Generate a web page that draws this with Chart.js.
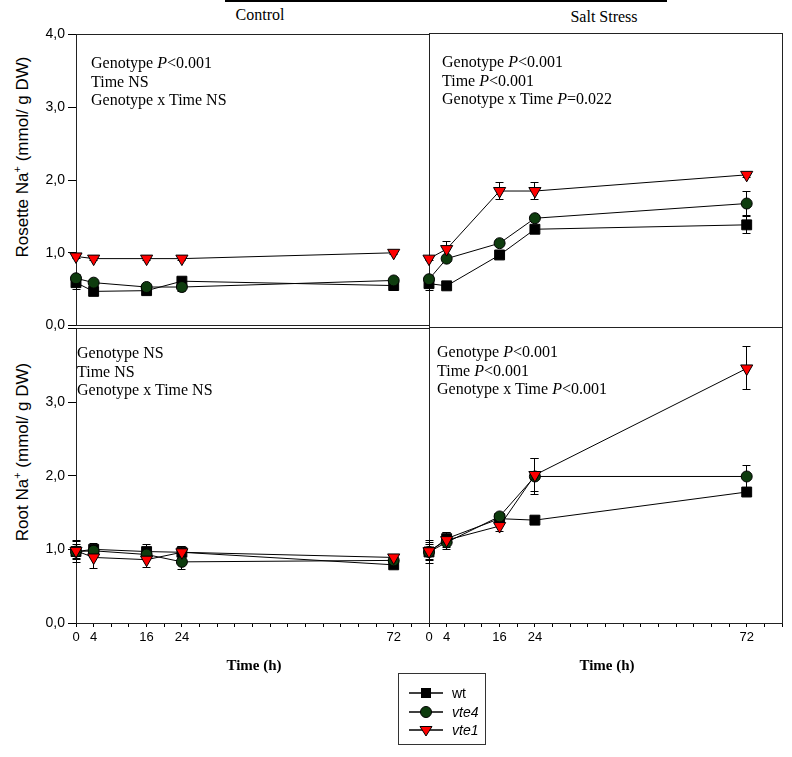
<!DOCTYPE html>
<html>
<head>
<meta charset="utf-8">
<script src="https://cdn.jsdelivr.net/npm/chart.js@4.4.1/dist/chart.umd.min.js"></script>
<style>
  html, body { margin: 0; padding: 0; background: #fff; }
  body { width: 792px; height: 757px; position: relative; overflow: hidden;
         font-family: "Liberation Serif", "Times New Roman", serif; color: #000; }
  canvas { position: absolute; }
  .c { position: absolute; transform: translate(-50%, -50%); white-space: nowrap; }
  .stat { position: absolute; font: 16px "Liberation Serif", "Times New Roman", serif; line-height: 18.5px; white-space: nowrap; }
  .ytitle { position: absolute; transform: translate(-50%, -50%) rotate(-90deg); white-space: nowrap;
            font: 17px "Liberation Sans", Arial, sans-serif; }
  .ytitle sup { font-size: 11px; }
  .head { font: 16px "Liberation Serif", "Times New Roman", serif; }
  .time { font: bold 15px "Liberation Serif", "Times New Roman", serif; }
  #legend { position: absolute; left: 398px; top: 673px; width: 88px; height: 72px; border: 1px solid #333; box-sizing: border-box; }
  #legend svg { position: absolute; left: 0; top: 0; }
  .lg { position: absolute; left: 53px; font: italic 14px "Liberation Sans", Arial, sans-serif; transform: translateY(-50%); }
</style>
</head>
<body>

<div style="position:absolute;left:225px;top:0;width:442px;height:2px;background:#000"></div>
<div class="c head" style="left:260px;top:15px">Control</div>
<div class="c head" style="left:604px;top:17px">Salt Stress</div>

<div class="ytitle" style="left:22px;top:157px">Rosette Na<sup>+</sup> (mmol/ g DW)</div>
<div class="ytitle" style="left:22px;top:452px">Root Na<sup>+</sup> (mmol/ g DW)</div>

<canvas id="tl" width="439" height="314" style="left:0;top:23px"></canvas>
<canvas id="tr" width="373" height="314" style="left:419px;top:23px"></canvas>
<canvas id="bl" width="439" height="346" style="left:0;top:317px"></canvas>
<canvas id="br" width="373" height="346" style="left:419px;top:317px"></canvas>

<div class="stat" style="left:91px;top:54px">Genotype <i>P</i>&lt;0.001<br>Time NS<br>Genotype x Time NS</div>
<div class="stat" style="left:442px;top:53px">Genotype <i>P</i>&lt;0.001<br>Time <i>P</i>&lt;0.001<br>Genotype x Time <i>P</i>=0.022</div>
<div class="stat" style="left:77px;top:344px">Genotype NS<br>Time NS<br>Genotype x Time NS</div>
<div class="stat" style="left:437px;top:343px">Genotype <i>P</i>&lt;0.001<br>Time <i>P</i>&lt;0.001<br>Genotype x Time <i>P</i>&lt;0.001</div>

<div class="c time" style="left:254px;top:665px">Time (h)</div>
<div class="c time" style="left:607px;top:665px">Time (h)</div>

<div id="legend">
  <svg width="88" height="72" xmlns="http://www.w3.org/2000/svg">
    <line x1="10" y1="19" x2="44" y2="19" stroke="#000" stroke-width="1.3"/>
    <rect x="22" y="14" width="10" height="10" fill="#000"/>
    <line x1="10" y1="38" x2="44" y2="38" stroke="#000" stroke-width="1.3"/>
    <circle cx="27" cy="38" r="5.5" fill="#0e3c0e" stroke="#000" stroke-width="1"/>
    <line x1="10" y1="56" x2="44" y2="56" stroke="#000" stroke-width="1.3"/>
    <polygon points="21,52.5 33,52.5 27,62" fill="#ff0000" stroke="#000" stroke-width="1"/>
  </svg>
  <span class="lg" style="top:19px;font-style:normal">wt</span>
  <span class="lg" style="top:38px">vte4</span>
  <span class="lg" style="top:56px">vte1</span>
</div>

<script>
// ---------- data ----------
const times = [0, 4, 16, 24, 72];
const xTickLabels = [0, 4, 16, 24, 72];
const seriesNames = ['wt', 'vte4', 'vte1'];

// Rosette Na+, Control
const rosCtrlWt       = [0.59, 0.47, 0.48, 0.61, 0.55];
const rosCtrlWtErr    = [0.10, 0.03, 0.04, 0.03, 0.03];
const rosCtrlVte4     = [0.65, 0.59, 0.53, 0.53, 0.62];
const rosCtrlVte4Err  = [0.05, 0.03, 0.04, 0.06, 0.03];
const rosCtrlVte1     = [0.95, 0.92, 0.92, 0.92, 1.00];
const rosCtrlVte1Err  = [0.03, 0.02, 0.02, 0.02, 0.02];

// Rosette Na+, Salt stress
const rosSaltWt       = [0.59, 0.56, 0.98, 1.33, 1.39];
const rosSaltWtErr    = [0.10, 0.02, 0.04, 0.04, 0.12];
const rosSaltVte4     = [0.65, 0.93, 1.14, 1.48, 1.68];
const rosSaltVte4Err  = [0.05, 0.03, 0.03, 0.04, 0.16];
const rosSaltVte1     = [0.93, 1.06, 1.85, 1.85, 2.07];
const rosSaltVte1Err  = [0.03, 0.11, 0.12, 0.11, 0.03];

// Root Na+, Control
const rootCtrlWt      = [0.97, 1.00, 0.97, 0.96, 0.79];
const rootCtrlWtErr   = [0.15, 0.08, 0.10, 0.08, 0.03];
const rootCtrlVte4    = [0.97, 0.98, 0.93, 0.83, 0.85];
const rootCtrlVte4Err = [0.10, 0.06, 0.05, 0.10, 0.03];
const rootCtrlVte1    = [0.98, 0.89, 0.86, 0.96, 0.89];
const rootCtrlVte1Err = [0.12, 0.15, 0.10, 0.08, 0.03];

// Root Na+, Salt stress
const rootSaltWt      = [0.96, 1.14, 1.41, 1.39, 1.77];
const rootSaltWtErr   = [0.15, 0.08, 0.04, 0.03, 0.04];
const rootSaltVte4    = [0.96, 1.09, 1.44, 1.98, 1.98];
const rootSaltVte4Err = [0.10, 0.10, 0.04, 0.24, 0.15];
const rootSaltVte1    = [0.97, 1.12, 1.31, 2.00, 3.44];
const rootSaltVte1Err = [0.12, 0.10, 0.07, 0.22, 0.29];

// ---------- styles ----------
const styleWt   = { pointStyle: 'rect', pointRadius: 7, backgroundColor: '#000', pointRotation: 0 };
const styleVte4 = { pointStyle: 'circle', pointRadius: 5.5, backgroundColor: '#0e3c0e', pointRotation: 0 };
const styleVte1 = { pointStyle: 'triangle', pointRadius: 7, backgroundColor: '#ff0000', pointRotation: 180 };

function ds(label, vals, errs, st, order) {
  return {
    label: label,
    data: times.map((t, i) => ({ x: t, y: vals[i] })),
    errors: errs,
    borderColor: '#000',
    borderWidth: 1,
    pointBorderColor: '#000',
    pointBorderWidth: 1,
    pointBackgroundColor: st.backgroundColor,
    pointStyle: st.pointStyle,
    pointRadius: st.pointRadius,
    pointRotation: st.pointRotation,
    tension: 0,
    clip: false,
    order: order
  };
}

const px = v => Math.floor(v) + 0.5;

const framePlugin = {
  id: 'frameAndErrors',
  beforeDatasetsDraw(chart) {
    const { ctx, chartArea: a, scales } = chart;
    ctx.save();
    ctx.strokeStyle = '#222';
    ctx.lineWidth = 1;
    ctx.strokeRect(px(a.left), px(a.top), Math.round(a.right - a.left), Math.round(a.bottom - a.top));
    // error bars
    ctx.strokeStyle = '#000';
    chart.data.datasets.forEach((d, di) => {
      const meta = chart.getDatasetMeta(di);
      meta.data.forEach((pt, i) => {
        const e = d.errors[i];
        const v = d.data[i].y;
        const yT = scales.y.getPixelForValue(v + e);
        const yB = scales.y.getPixelForValue(v - e);
        const x = px(pt.x);
        ctx.beginPath();
        ctx.moveTo(x, yT); ctx.lineTo(x, yB);
        ctx.moveTo(x - 4, px(yT)); ctx.lineTo(x + 4, px(yT));
        ctx.moveTo(x - 4, px(yB)); ctx.lineTo(x + 4, px(yB));
        ctx.stroke();
      });
    });
    ctx.restore();
  }
};

function makePanel(id, sets, showY, showX, hideTop) {
  const yScale = {
    type: 'linear', min: 0, max: 4,
    display: showY,
    afterFit: s => { s.width = showY ? 66 : 0; },
    ticks: {
      stepSize: 1,
      color: '#000',
      padding: 3,
      font: { family: '"Liberation Sans", Arial, sans-serif', size: 14 },
      callback: v => (hideTop && v === 4) ? '' : v.toFixed(1).replace('.', ',')
    },
    grid: { drawOnChartArea: false, drawTicks: true, tickLength: 8, color: '#000', tickColor: '#000' },
    border: { display: false }
  };
  const xScale = {
    type: 'linear', min: 0, max: 80,
    display: showX,
    afterFit: s => { s.height = showX ? 30 : 0; },
    ticks: {
      stepSize: 4,
      autoSkip: false,
      maxRotation: 0,
      color: '#000',
      padding: 3,
      font: { family: '"Liberation Sans", Arial, sans-serif', size: 13 },
      callback: v => xTickLabels.includes(v) ? String(v) : ''
    },
    grid: { drawOnChartArea: false, drawTicks: true, tickLength: 4, color: '#000', tickColor: '#000' },
    border: { display: false }
  };
  return new Chart(document.getElementById(id), {
    type: 'line',
    data: {
      datasets: [
        ds(seriesNames[0], sets[0], sets[1], styleWt, 3),
        ds(seriesNames[1], sets[2], sets[3], styleVte4, 2),
        ds(seriesNames[2], sets[4], sets[5], styleVte1, 1)
      ]
    },
    options: {
      responsive: false,
      animation: false,
      events: [],
      layout: { padding: 10 },
      plugins: { legend: { display: false }, tooltip: { enabled: false } },
      scales: { x: xScale, y: yScale }
    },
    plugins: [framePlugin]
  });
}

makePanel('tl', [rosCtrlWt, rosCtrlWtErr, rosCtrlVte4, rosCtrlVte4Err, rosCtrlVte1, rosCtrlVte1Err], true, false, false);
makePanel('tr', [rosSaltWt, rosSaltWtErr, rosSaltVte4, rosSaltVte4Err, rosSaltVte1, rosSaltVte1Err], false, false, false);
makePanel('bl', [rootCtrlWt, rootCtrlWtErr, rootCtrlVte4, rootCtrlVte4Err, rootCtrlVte1, rootCtrlVte1Err], true, true, true);
makePanel('br', [rootSaltWt, rootSaltWtErr, rootSaltVte4, rootSaltVte4Err, rootSaltVte1, rootSaltVte1Err], false, true, true);
</script>
</body>
</html>
